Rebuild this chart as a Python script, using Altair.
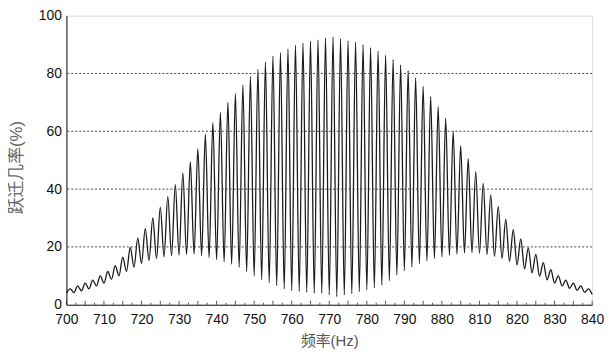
import altair as alt
import pandas as pd

# Troughs at even frequencies 700..840 Hz (transition probability, %)
trough_vals = [4, 4.2, 4.8, 5.5, 6.5, 7.5, 8.8, 10, 11.5, 13, 14.3, 15.3, 16, 16.6, 17, 17.2,
               17.4, 17.5, 17, 16.3, 15.6, 14.8, 14, 12.9, 11.5, 10, 8.6, 7.6, 6.6, 5.5, 4.9,
               4.6, 4.3, 4.0, 4.0, 3.4, 2.8, 3.4, 3.8, 4.5, 5.1, 5.8, 6.8, 8.3, 10.3, 11.8, 13,
               14.2, 15.2, 16, 16.6, 17.1, 17.5, 17.9, 18, 17.8, 17.3, 16.7, 16, 15, 13.8, 12.4,
               11, 9.8, 8.6, 7.5, 6.5, 5.7, 5, 4.3, 3.6]
# Peaks at odd frequencies 701..839 Hz
peak_vals = [5.5, 6.5, 7.5, 8.5, 10, 11.5, 13.5, 16.5, 19.8, 23, 26.3, 30, 33.8, 37.5, 41.5,
             45.6, 49.5, 54, 59, 63, 66.5, 70, 73, 76, 79, 81.5, 84, 86, 87.2, 88.5, 89.8,
             90.5, 91.2, 91.6, 92.3, 92.6, 92, 91.3, 90.8, 90, 89, 87.8, 86.3, 84.8, 83, 81,
             78.5, 75.5, 72, 68.5, 64.5, 60, 55, 50.5, 46, 42, 38, 34, 29.5, 26, 22.8, 19.7,
             17.4, 14.6, 12.1, 10, 8.5, 7.5, 6.5, 5.5]

x_ticks = list(range(700, 841, 10))
y_ticks = [0, 20, 40, 60, 80, 100]
grid_vals = [20, 40, 60, 80]
major_minor = [700 + 5 * i for i in range(29)]
minor_minor = [702.5 + 5 * i for i in range(28)]

rows = []
for i, t in enumerate(trough_vals):
    rows.append({"f": 700 + 2 * i, "p": t})
    if i < len(peak_vals):
        rows.append({"f": 701 + 2 * i, "p": peak_vals[i]})
df = pd.DataFrame(rows)

FONT = "'Liberation Sans', 'Noto Sans CJK SC', sans-serif"

xscale = alt.Scale(domain=[700, 840], nice=False, zero=False)
yscale = alt.Scale(domain=[0, 100], nice=False)

xaxis = alt.Axis(values=x_ticks, title="频率(Hz)", ticks=False, grid=False,
                 labelExpr="datum.value == 800 ? '880' : datum.label",
                 labelFont=FONT, labelFontSize=14, labelColor="#111",
                 labelPadding=8, labelOverlap=False, labelFlush=False, labelBound=False,
                 domainColor="#111", domainWidth=1,
                 titleFont=FONT, titleFontSize=15, titleFontWeight="normal",
                 titleColor="#555", titlePadding=7)
yaxis = alt.Axis(values=y_ticks, title="跃迁几率(%)", ticks=False, grid=False,
                 labelFont=FONT, labelFontSize=14, labelColor="#111",
                 labelPadding=5, labelOverlap=False, domainColor="#111", domainWidth=1,
                 titleFont=FONT, titleFontSize=17, titleFontWeight="normal",
                 titleColor="#666", titleBaseline="middle", titleX=-50, titleY=153)

line = alt.Chart(df).mark_line(
    color="#1a1a1a", strokeWidth=1.3, interpolate="monotone"
).encode(
    x=alt.X("f:Q", scale=xscale, axis=xaxis),
    y=alt.Y("p:Q", scale=yscale, axis=yaxis),
)

grid = alt.Chart(pd.DataFrame({"g": grid_vals})).mark_rule(
    color="#444", strokeDash=[2, 2], strokeWidth=1
).encode(y=alt.Y("g:Q", scale=yscale, axis=yaxis))

tick_major = alt.Chart(pd.DataFrame({"t": major_minor, "z": [0] * len(major_minor)})).mark_tick(
    color="#111", size=4, thickness=1, yOffset=-2, orient="vertical"
).encode(x=alt.X("t:Q", scale=xscale, axis=xaxis), y=alt.Y("z:Q", scale=yscale, axis=yaxis))

tick_minor = alt.Chart(pd.DataFrame({"t": minor_minor, "z": [0] * len(minor_minor)})).mark_tick(
    color="#111", size=2, thickness=1, yOffset=-1, orient="vertical"
).encode(x=alt.X("t:Q", scale=xscale, axis=xaxis), y=alt.Y("z:Q", scale=yscale, axis=yaxis))

chart = alt.layer(line, grid, tick_major, tick_minor).properties(
    width=531, height=292,
    autosize=alt.AutoSizeParams(type="none"),
    padding={"left": 59, "top": 6, "right": 12, "bottom": 44},
).configure_view(stroke="#999", strokeWidth=1).configure(background="white")

chart.save("out.html", embed_options={"renderer": "svg", "actions": False})
